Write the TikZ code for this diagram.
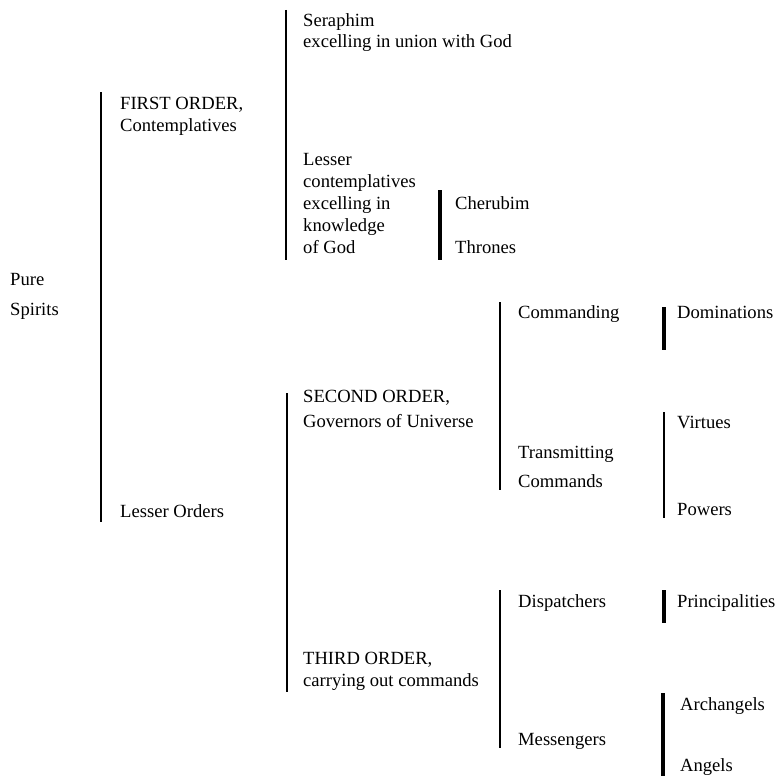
\documentclass[tikz,border=0pt]{standalone}
\usepackage{fontspec}
\setmainfont{Liberation Serif}
\begin{document}
\begin{tikzpicture}[x=1pt,y=-1pt,
  lbl/.style={anchor=base west, inner sep=0pt, align=left, font=\fontsize{18.6}{24}\selectfont},
  brk/.style={line width=2pt},
  brkb/.style={line width=3.5pt}]
\useasboundingbox (0,0) rectangle (781,776);
% labels (multi-line nodes are placed at the baseline of their last line)
\node[lbl, font=\fontsize{18.6}{30}\selectfont] (pure) at (10,315) {Pure\\Spirits};
\node[lbl, font=\fontsize{18.6}{22}\selectfont] (first) at (120,131) {FIRST ORDER,\\Contemplatives};
\node[lbl] (lesserord) at (120,517) {Lesser Orders};
\node[lbl, font=\fontsize{18.6}{21}\selectfont] (seraph) at (303,48) {Seraphim\\excelling in union with God};
\node[lbl, font=\fontsize{18.6}{22}\selectfont] (lesser) at (303,253) {Lesser\\contemplatives\\excelling in\\knowledge\\of God};
\node[lbl] (cherub) at (455,209) {Cherubim};
\node[lbl] (thrones) at (455,253) {Thrones};
\node[lbl, font=\fontsize{18.6}{25}\selectfont] (second) at (303,427) {SECOND ORDER,\\Governors of Universe};
\node[lbl, font=\fontsize{18.6}{22}\selectfont] (third) at (303,686) {THIRD ORDER,\\carrying out commands};
\node[lbl] (commanding) at (518,318) {Commanding};
\node[lbl, font=\fontsize{18.6}{29}\selectfont] (transmit) at (518,487) {Transmitting\\Commands};
\node[lbl] (domin) at (677,318) {Dominations};
\node[lbl] (virtues) at (677,428) {Virtues};
\node[lbl] (powers) at (677,515) {Powers};
\node[lbl] (dispatch) at (518,607) {Dispatchers};
\node[lbl] (messeng) at (518,745) {Messengers};
\node[lbl] (princ) at (677,607) {Principalities};
\node[lbl] (archang) at (680,710) {Archangels};
\node[lbl] (angels) at (680,771) {Angels};
% bracket end points
\coordinate (a1) at (101,92);  \coordinate (a2) at (101,522);
\coordinate (b1) at (286,10);  \coordinate (b2) at (286,260);
\coordinate (c1) at (440,190); \coordinate (c2) at (440,260);
\coordinate (d1) at (287,393); \coordinate (d2) at (287,692);
\coordinate (e1) at (500,302); \coordinate (e2) at (500,490);
\coordinate (f1) at (664,307); \coordinate (f2) at (664,350);
\coordinate (g1) at (664,412); \coordinate (g2) at (664,518);
\coordinate (h1) at (500,590); \coordinate (h2) at (500,748);
\coordinate (i1) at (664,590); \coordinate (i2) at (664,623);
\coordinate (j1) at (663,693); \coordinate (j2) at (663,776);
% brackets
\draw[brk] (a1) -- (a2);
\draw[brk] (b1) -- (b2);
\draw[brkb] (c1) -- (c2);
\draw[brk] (d1) -- (d2);
\draw[brk] (e1) -- (e2);
\draw[brkb] (f1) -- (f2);
\draw[brk] (g1) -- (g2);
\draw[brk] (h1) -- (h2);
\draw[brkb] (i1) -- (i2);
\draw[brkb] (j1) -- (j2);
\end{tikzpicture}
\end{document}
